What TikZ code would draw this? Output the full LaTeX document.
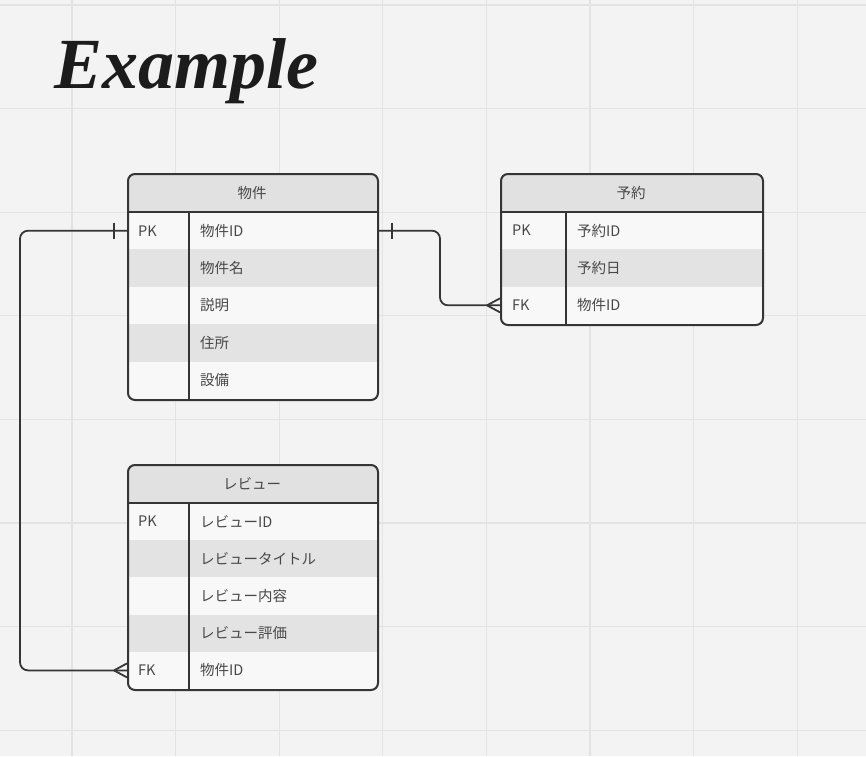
\documentclass[tikz,border=0pt]{standalone}
\usepackage{fontspec}
\setmainfont{Noto Sans CJK JP}
\newfontfamily\titlefont{Liberation Serif}
\usepackage{xcolor}
\usepackage{tikz}
\usetikzlibrary{positioning,calc}

\definecolor{bggray}{HTML}{F3F3F3}
\definecolor{gridgray}{HTML}{E3E3E3}
\definecolor{headgray}{HTML}{E1E1E1}
\definecolor{rowwhite}{HTML}{F8F8F8}
\definecolor{rowgray}{HTML}{E3E3E3}
\definecolor{linegray}{HTML}{353535}
\definecolor{textgray}{HTML}{474747}
\definecolor{titleblack}{HTML}{1C1C1C}

\tikzset{
    gridline/.style={draw=gridgray, line width=1.2pt},
    tableframe/.style={draw=linegray, line width=2pt, rounded corners=7pt, anchor=north west, inner sep=0pt},
    tableline/.style={draw=linegray, line width=2pt},
    relline/.style={draw=linegray, line width=1.8pt, rounded corners=8pt},
    headtext/.style={text=textgray, inner sep=0pt, font=\fontsize{14.5}{17}\selectfont},
    keytext/.style={anchor=west, text=textgray, inner sep=0pt, font=\fontsize{14.5}{17}\selectfont},
    fieldtext/.style={anchor=west, text=textgray, inner sep=0pt, font=\fontsize{14.5}{17}\selectfont},
    titletext/.style={anchor=base west, inner sep=0pt, text=titleblack, font=\titlefont\bfseries\itshape\fontsize{72}{76}\selectfont}
}

\begin{document}
\begin{tikzpicture}[x=1pt,y=-1pt]
    % Canvas and grid
    \fill[bggray] (0,0) rectangle (866,756);
    \useasboundingbox (0,0) rectangle (866,756);
    \foreach \g in {0,...,7} {
        \draw[gridline] ({72+103.6*\g},0) -- ({72+103.6*\g},756);
        \draw[gridline] (0,{5+103.6*\g}) -- (866,{5+103.6*\g});
    }

    % Title
    \node[titletext] (title) at (54,88) {Example};

    % Table 物件
    \begin{scope}
        \clip[rounded corners=7pt] (127,173) rectangle (377,399);
        \fill[rowwhite] (127,173) rectangle (377,399);
        \fill[headgray] (127,173) rectangle (377,212);
        \foreach \r in {1,3}
            \fill[rowgray] (127,{212+37.4*\r}) rectangle (377,{212+37.4*(\r+1)});
    \end{scope}
    \node[tableframe, minimum width=250pt, minimum height=226pt] (bukken) at (127,173) {};
    \draw[tableline] (127,212) -- (377,212);
    \draw[tableline] (189,212) -- (189,399);
    \node[headtext] (bukken-head) at (252,193) {物件};
    \node[keytext] (bukken-pk) at (138,{212+37.4*0.5}) {PK};
    \foreach \txt [count=\i] in {物件ID,物件名,説明,住所,設備}
        \node[fieldtext] (bukken-f\i) at (200,{212+37.4*(\i-0.5)}) {\txt};

    % Table 予約
    \begin{scope}
        \clip[rounded corners=7pt] (500,173) rectangle (762,324);
        \fill[rowwhite] (500,173) rectangle (762,324);
        \fill[headgray] (500,173) rectangle (762,212);
        \fill[rowgray] (500,{212+37.33}) rectangle (762,{212+37.33*2});
    \end{scope}
    \node[tableframe, minimum width=262pt, minimum height=151pt] (yoyaku) at (500,173) {};
    \draw[tableline] (500,212) -- (762,212);
    \draw[tableline] (566,212) -- (566,324);
    \node[headtext] (yoyaku-head) at (631,193) {予約};
    \node[keytext] (yoyaku-pk) at (512,{212+37.33*0.5}) {PK};
    \node[keytext] (yoyaku-fk) at (512,{212+37.33*2.5}) {FK};
    \foreach \txt [count=\i] in {予約ID,予約日,物件ID}
        \node[fieldtext] (yoyaku-f\i) at (577,{212+37.33*(\i-0.5)}) {\txt};

    % Table レビュー
    \begin{scope}
        \clip[rounded corners=7pt] (127,464) rectangle (377,689);
        \fill[rowwhite] (127,464) rectangle (377,689);
        \fill[headgray] (127,464) rectangle (377,503);
        \foreach \r in {1,3}
            \fill[rowgray] (127,{503+37.2*\r}) rectangle (377,{503+37.2*(\r+1)});
    \end{scope}
    \node[tableframe, minimum width=250pt, minimum height=225pt] (review) at (127,464) {};
    \draw[tableline] (127,503) -- (377,503);
    \draw[tableline] (189,503) -- (189,689);
    \node[headtext] (review-head) at (252,484) {レビュー};
    \node[keytext] (review-pk) at (138,{503+37.2*0.5}) {PK};
    \node[keytext] (review-fk) at (138,{503+37.2*4.5}) {FK};
    \foreach \txt [count=\i] in {レビューID,レビュータイトル,レビュー内容,レビュー評価,物件ID}
        \node[fieldtext] (review-f\i) at (200,{503+37.2*(\i-0.5)}) {\txt};

    % Relation 物件 - 予約
    \draw[relline] (bukken-f1 -| bukken.east) -- ++(61,0) |- (yoyaku-f3 -| yoyaku.west);
    \draw[relline] ($(bukken-f1 -| bukken.east)+(13,-8)$) -- ++(0,16);
    \draw[relline] ($(yoyaku-f3 -| yoyaku.west)+(-13,0)$) -- ++(13,-7)
                   ($(yoyaku-f3 -| yoyaku.west)+(-13,0)$) -- ++(13,7);

    % Relation 物件 - レビュー
    \draw[relline] (bukken-f1 -| bukken.west) -- ++(-107,0) |- (review-f5 -| review.west);
    \draw[relline] ($(bukken-f1 -| bukken.west)+(-13,-8)$) -- ++(0,16);
    \draw[relline] ($(review-f5 -| review.west)+(-13,0)$) -- ++(13,-7)
                   ($(review-f5 -| review.west)+(-13,0)$) -- ++(13,7);

\end{tikzpicture}
\end{document}
